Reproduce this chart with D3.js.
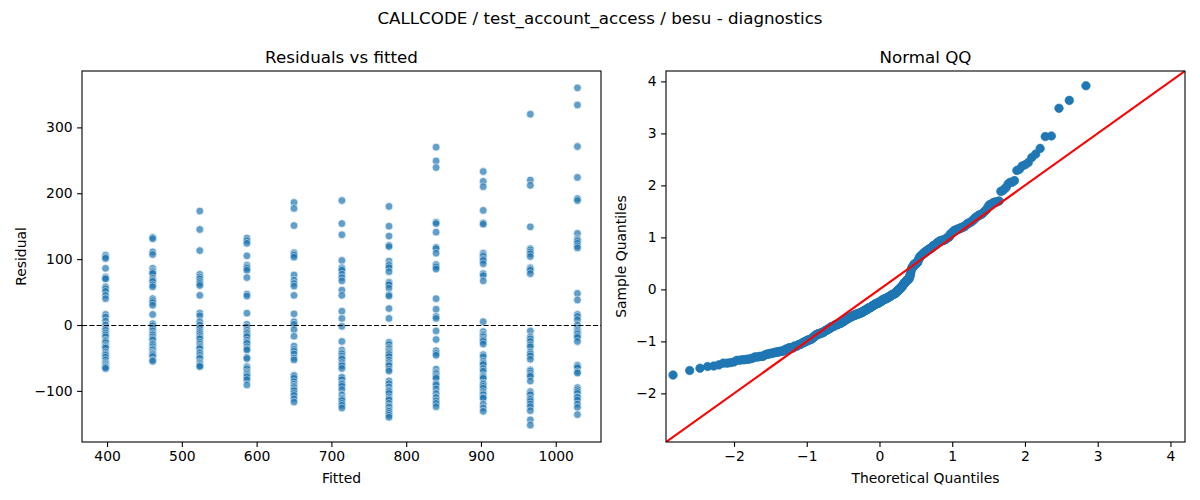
<!DOCTYPE html>
<html><head><meta charset="utf-8">
<script src="https://cdn.jsdelivr.net/npm/d3@7"></script>
<style>body{margin:0;background:#fff}svg{display:block}text{font-family:"DejaVu Sans",sans-serif;fill:#000}</style>
</head><body><svg id="c" width="1200" height="500"></svg>
<script>
// ---- data ----
const fitted = [398, 461, 524, 587, 650, 714, 777, 840, 903, 966, 1029];
const resid398 = [106,103,101,86,73,71,70,58,55,51,45,40,16,12,6,0,-5,-8,-12,-15,-18,-23,-25,-27,-31,-33,-35,-41,-44,-46,-49,-53,-57,-59,-61,-63,-64,-66];
const resid461 = [133,131,111,107,86,82,80,78,71,68,66,61,58,40,37,34,30,16,2,-1,-5,-9,-13,-15,-18,-21,-23,-28,-30,-33,-36,-38,-41,-43,-44,-46,-48,-53,-55];
const resid524 = [173,145,113,77,73,70,66,63,60,45,18,14,5,0,-5,-10,-13,-16,-19,-21,-26,-29,-32,-34,-36,-41,-43,-46,-49,-51,-56,-58,-60,-62,-63];
const resid587 = [132,128,124,105,91,88,86,83,72,47,44,18,1,-3,-8,-11,-13,-16,-18,-23,-26,-28,-33,-36,-38,-49,-51,-63,-65,-67,-71,-73,-75,-77,-79,-83,-91];
const resid650 = [186,177,151,110,108,106,103,76,68,63,59,45,17,5,1,-7,-17,-32,-37,-40,-44,-50,-53,-76,-78,-81,-86,-90,-93,-95,-98,-100,-104,-107,-112,-117];
const resid714 = [189,154,137,98,87,85,83,77,72,67,53,45,21,10,-2,-25,-38,-42,-44,-47,-50,-52,-57,-60,-62,-66,-79,-80,-83,-88,-90,-93,-98,-106,-111,-113,-115,-119,-122,-126];
const resid777 = [180,150,135,121,119,97,92,90,87,81,65,63,61,56,46,44,25,10,-26,-28,-30,-34,-36,-39,-41,-43,-45,-48,-53,-57,-60,-62,-67,-70,-85,-89,-94,-99,-101,-104,-109,-112,-114,-119,-123,-125,-129,-131,-134,-137,-140];
const resid840 = [270,249,239,156,154,141,118,116,109,92,90,88,85,40,24,13,10,-9,-22,-39,-43,-46,-67,-72,-74,-77,-79,-81,-89,-91,-97,-104,-110,-115,-119,-124];
const resid903 = [233,218,210,174,155,153,109,106,104,100,98,93,78,75,67,5,-10,-14,-16,-18,-21,-23,-25,-29,-45,-48,-55,-58,-60,-66,-70,-77,-79,-81,-88,-90,-93,-96,-101,-104,-106,-110,-111,-120,-126,-131];
const resid966 = [320,220,212,149,116,114,111,108,104,87,85,83,78,-9,-18,-21,-25,-30,-33,-41,-44,-47,-52,-68,-70,-73,-76,-78,-85,-101,-104,-106,-111,-113,-116,-120,-124,-130,-144,-152];
const resid1029 = [360,334,271,224,192,189,139,131,129,127,124,120,117,48,38,16,13,8,0,-5,-8,-10,-12,-14,-17,-19,-25,-61,-63,-65,-71,-73,-95,-98,-101,-104,-109,-110,-114,-120,-125,-136];
const residByGroup = [resid398,resid461,resid524,resid587,resid650,resid714,resid777,resid840,resid903,resid966,resid1029];
const leftXTicks = [400,500,600,700,800,900,1000];
const leftYTicks = [-100,0,100,200,300];
const qqTicks = [-2,-1,0,1,2,3,4];
const titleText = "CALLCODE / test_account_access / besu - diagnostics";

// ---- build points ----
const pts = [];
fitted.forEach((f,i)=>residByGroup[i].forEach(r=>pts.push({f, r})));

// inverse normal CDF (Acklam)
function ppf(p){
  const a=[-3.969683028665376e+01,2.209460984245205e+02,-2.759285104469687e+02,1.383577518672690e+02,-3.066479806614716e+01,2.506628277459239e+00];
  const b=[-5.447609879822406e+01,1.615858368580409e+02,-1.556989798598866e+02,6.680131188771720e+01,-1.328068155288572e+01];
  const c=[-7.784894002430293e-03,-3.223964580411365e-01,-2.400758277161838e+00,-2.549671348451146e+00,4.374664141464968e+00,2.938163982698783e+00];
  const d=[7.784695709041462e-03,3.224671290700398e-01,2.445134137142996e+00,3.754408268524050e+00];
  const pl=0.02425;
  if(p<pl){const q=Math.sqrt(-2*Math.log(p));return (((((c[0]*q+c[1])*q+c[2])*q+c[3])*q+c[4])*q+c[5])/((((d[0]*q+d[1])*q+d[2])*q+d[3])*q+1);}
  if(p<=1-pl){const q=p-0.5,r=q*q;return (((((a[0]*r+a[1])*r+a[2])*r+a[3])*r+a[4])*r+a[5])*q/(((((b[0]*r+b[1])*r+b[2])*r+b[3])*r+b[4])*r+1);}
  const q=Math.sqrt(-2*Math.log(1-p));return -(((((c[0]*q+c[1])*q+c[2])*q+c[3])*q+c[4])*q+c[5])/((((d[0]*q+d[1])*q+d[2])*q+d[3])*q+1);
}
const allR = pts.map(d=>d.r).sort((a,b)=>a-b);
const n = allR.length;
const mu = d3.mean(allR);
const sd = Math.sqrt(d3.mean(allR, v=>(v-mu)*(v-mu)));
const qq = allR.map((v,i)=>({t: ppf((i+1)/(n+1)), s: (v-mu)/sd}));

// ---- layout ----
const svg = d3.select("#c");
const L = {x0:82, x1:601, y0:71, y1:442};
const R = {x0:666, x1:1185, y0:71, y1:442};
const fs = 13.9;

svg.append("rect").attr("width",1200).attr("height",500).attr("fill","#fff");
svg.append("text").attr("x",600).attr("y",24).attr("text-anchor","middle").attr("font-size",16.7).text(titleText);

function axesFrame(A){
  svg.append("rect").attr("x",A.x0).attr("y",A.y0).attr("width",A.x1-A.x0).attr("height",A.y1-A.y0)
    .attr("fill","none").attr("stroke","#000").attr("stroke-width",1.1);
}
function drawAxes(A, xs, ys, xt, yt, xfmt, yfmt){
  const gx = svg.append("g").attr("transform",`translate(0,${A.y1})`)
    .call(d3.axisBottom(xs).tickValues(xt).tickSize(4.9).tickPadding(4.5).tickFormat(xfmt));
  const gy = svg.append("g").attr("transform",`translate(${A.x0},0)`)
    .call(d3.axisLeft(ys).tickValues(yt).tickSize(4.9).tickPadding(4.5).tickFormat(yfmt));
  [gx,gy].forEach(g=>{
    g.select(".domain").remove();
    g.selectAll("line").attr("stroke","#000").attr("stroke-width",1.1);
    g.selectAll("text").attr("font-size",fs).attr("font-family","DejaVu Sans").attr("fill","#000");
  });
}
const fmt = v => (v<0?"\u2212":"")+Math.abs(v);

// ---- left: residuals vs fitted ----
const xL = d3.scaleLinear().domain([366.5,1060.5]).range([L.x0,L.x1]);
const yL = d3.scaleLinear().domain([-177.6,385.6]).range([L.y1,L.y0]);
svg.append("defs").html(`<clipPath id="cl"><rect x="${L.x0}" y="${L.y0}" width="${L.x1-L.x0}" height="${L.y1-L.y0}"/></clipPath><clipPath id="cr"><rect x="${R.x0}" y="${R.y0}" width="${R.x1-R.x0}" height="${R.y1-R.y0}"/></clipPath>`);
const gL = svg.append("g").attr("clip-path","url(#cl)");
gL.selectAll("circle").data(pts).join("circle")
  .attr("cx",d=>xL(d.f)).attr("cy",d=>yL(d.r)).attr("r",3.9)
  .attr("fill","#1f77b4").attr("stroke","#fff").attr("stroke-width",0.7).attr("opacity",0.7);
const y0px = Math.round(yL(0)) + 0.5;
gL.append("line").attr("x1",L.x0).attr("x2",L.x1).attr("y1",y0px).attr("y2",y0px)
  .attr("stroke","#000").attr("stroke-width",1.1).attr("stroke-dasharray","5.1,2.2");
axesFrame(L);
drawAxes(L,xL,yL,leftXTicks,leftYTicks,fmt,fmt);
svg.append("text").attr("x",(L.x0+L.x1)/2).attr("y",63).attr("text-anchor","middle").attr("font-size",16.7).text("Residuals vs fitted");
svg.append("text").attr("x",(L.x0+L.x1)/2).attr("y",482.5).attr("text-anchor","middle").attr("font-size",fs).text("Fitted");
svg.append("text").attr("transform",`translate(26,${(L.y0+L.y1)/2}) rotate(-90)`).attr("text-anchor","middle").attr("font-size",fs).text("Residual");

// ---- right: normal QQ ----
const qqDom = [-2.935, 4.2];
const xR = d3.scaleLinear().domain(qqDom).range([R.x0,R.x1]);
const yR = d3.scaleLinear().domain(qqDom).range([R.y1,R.y0]);
const gR = svg.append("g").attr("clip-path","url(#cr)");
gR.selectAll("circle").data(qq).join("circle")
  .attr("cx",d=>xR(d.t)).attr("cy",d=>yR(d.s)).attr("r",4.3)
  .attr("fill","#1f77b4").attr("stroke","#1f77b4").attr("stroke-width",0.6);
gR.append("line").attr("x1",xR(qqDom[0])).attr("y1",yR(qqDom[0])).attr("x2",xR(qqDom[1])).attr("y2",yR(qqDom[1]))
  .attr("stroke","#ff0000").attr("stroke-width",2.1);
axesFrame(R);
drawAxes(R,xR,yR,qqTicks,qqTicks,fmt,fmt);
svg.append("text").attr("x",(R.x0+R.x1)/2).attr("y",63).attr("text-anchor","middle").attr("font-size",16.7).text("Normal QQ");
svg.append("text").attr("x",(R.x0+R.x1)/2).attr("y",482.5).attr("text-anchor","middle").attr("font-size",fs).text("Theoretical Quantiles");
svg.append("text").attr("transform",`translate(626,${(R.y0+R.y1)/2}) rotate(-90)`).attr("text-anchor","middle").attr("font-size",fs).text("Sample Quantiles");
</script></body></html>
